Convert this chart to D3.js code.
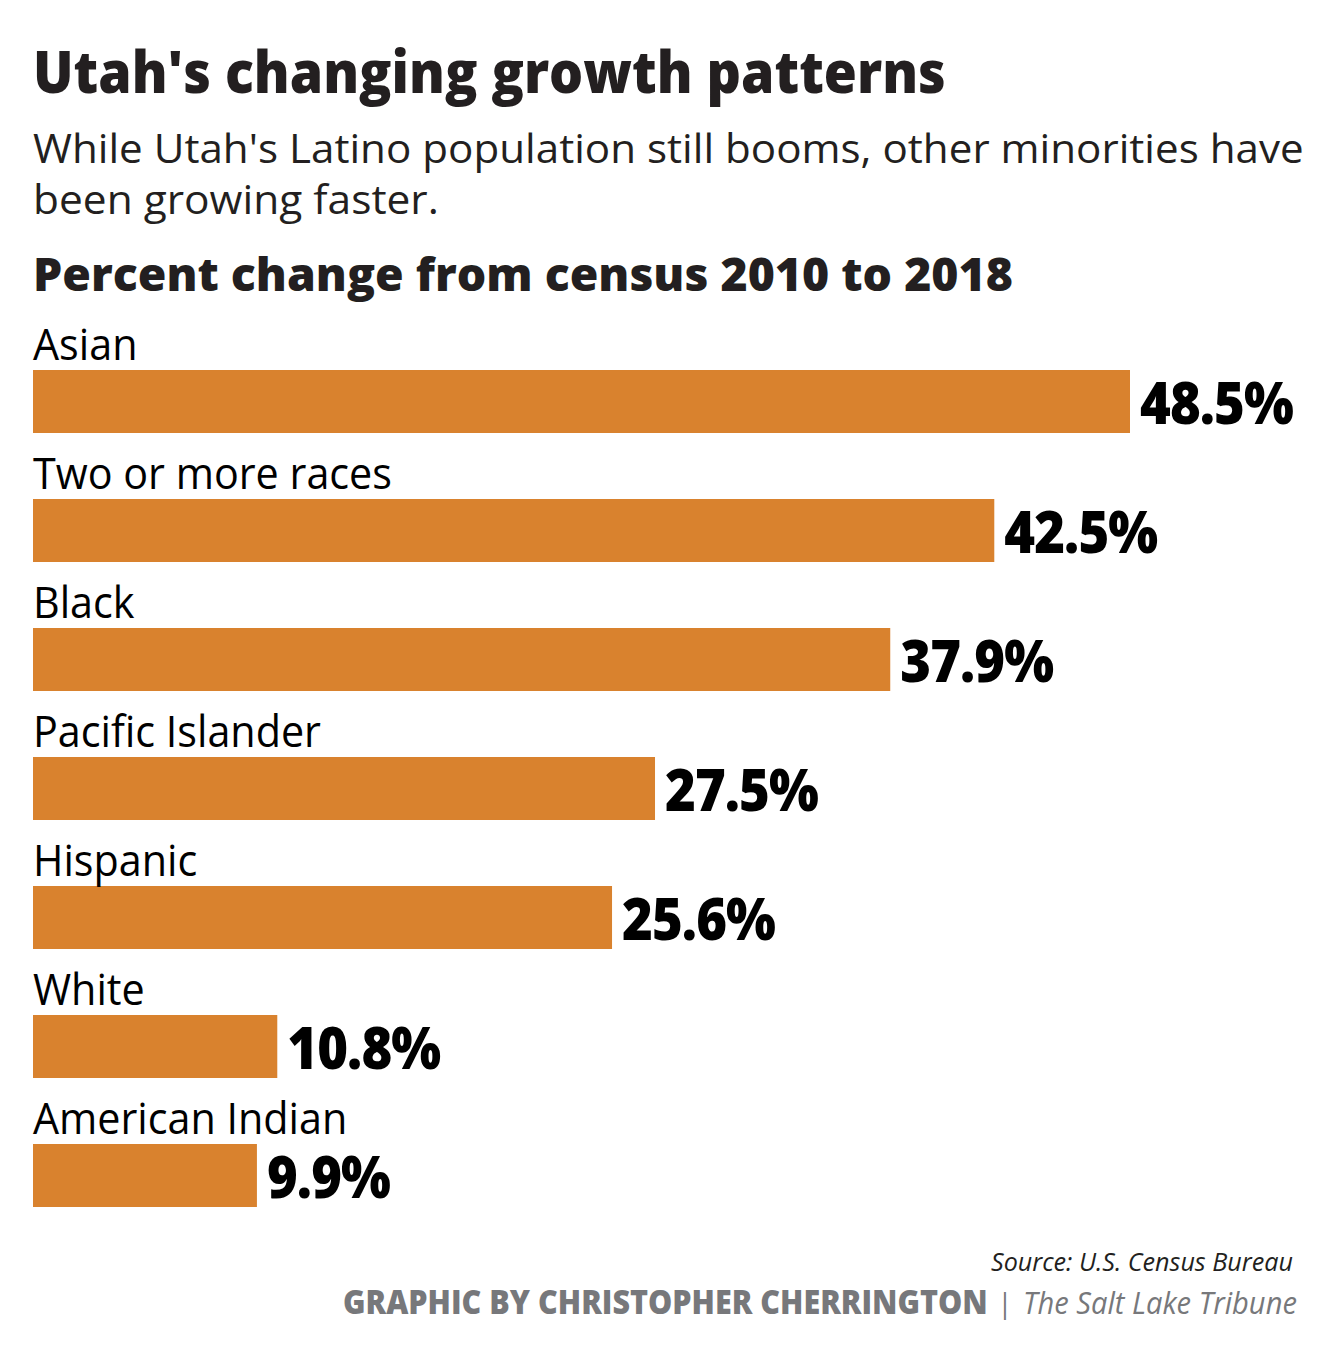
<!DOCTYPE html>
<html><head><meta charset="utf-8">
<script src="https://cdn.jsdelivr.net/npm/d3@7"></script>
<style>
html,body{margin:0;padding:0;background:#fff;}
text{font-family:"Open Sans","Noto Sans",sans-serif;}
</style></head>
<body><div id="chart"></div>
<script>
const categories = ["Asian","Two or more races","Black","Pacific Islander","Hispanic","White","American Indian"];
const values = [48.5,42.5,37.9,27.5,25.6,10.8,9.9];
const valueLabels = ["48.5%","42.5%","37.9%","27.5%","25.6%","10.8%","9.9%"];
const titleText = "Utah's changing growth patterns";
const subtitleLines = ["While Utah's Latino population still booms, other minorities have","been growing faster."];
const headerText = "Percent change from census 2010 to 2018";
const sourceText = "Source: U.S. Census Bureau";
const creditText = "GRAPHIC BY CHRISTOPHER CHERRINGTON";
const pubText = "The Salt Lake Tribune";

const W = 1335, H = 1360;
const svg = d3.select("#chart").append("svg").attr("width", W).attr("height", H);
const color = "#D9822E", ink = "#231f20";

function fitX(sel, x, target, anchor) {
  sel.each(function(){
    const w = this.getComputedTextLength();
    const s = target / w;
    const tx = anchor === "end" ? x - target : x;
    const yy = +this.getAttribute("y");
    d3.select(this).attr("x", 0).attr("y", 0).attr("text-anchor","start")
      .attr("transform", `translate(${tx},${yy}) scale(${s},1)`);
  });
}

fitX(svg.append("text").attr("y", 93).attr("font-size", 59).attr("font-weight", 800).attr("fill", ink).text(titleText), 33, 913);
subtitleLines.forEach((l,i) => {
  const t = svg.append("text").attr("y", 163 + i*51).attr("font-size", 41).attr("fill", ink).text(l);
  if (i === 0) fitX(t, 33, 1271); else fitX(t, 33, 406);
});
fitX(svg.append("text").attr("y", 291).attr("font-size", 46).attr("font-weight", 800).attr("fill", ink).text(headerText), 33, 980);

const step = 129, barH = 63;
const x = d3.scaleLinear().domain([0, 48.5]).range([33, 1130]);
const yPos = d3.scalePoint().domain(categories).range([370, 370 + step*6]);

const rows = svg.append("g").selectAll("g.row").data(categories).join("g").attr("class","row");
rows.append("rect")
  .attr("x", x(0)).attr("y", d => yPos(d))
  .attr("width", (d,i) => x(values[i]) - x(0)).attr("height", barH)
  .attr("fill", color);

const catLabels = rows.append("text")
  .attr("x", 0).attr("y", 0)
  .attr("font-size", 44).attr("fill", "#000")
  .text(d => d);
const refW = catLabels.filter((d,i) => i === 1).node().getComputedTextLength();
const cs = 359 / refW;
catLabels.attr("transform", d => `translate(33,${yPos(d) - 10}) scale(${cs},1)`);

const valTexts = rows.append("text")
  .attr("x", 0).attr("y", 0)
  .attr("font-size", 58).attr("font-weight", 800).attr("fill", "#000")
  .attr("letter-spacing", -1)
  .text((d,i) => valueLabels[i]);
const vW = valTexts.filter((d,i) => i === 0).node().getComputedTextLength();
const vs = 153 / vW;
valTexts.attr("transform", (d,i) => `translate(${x(values[i]) + 10},${yPos(d) + 54}) scale(${vs},1)`);

fitX(svg.append("text").attr("y", 1271).attr("font-size", 26).attr("font-style","italic").attr("fill", ink).text(sourceText), 1293, 302, "end");
fitX(svg.append("text").attr("y", 1314).attr("font-size", 33).attr("font-weight", 800).attr("fill", "#77787b").text(creditText), 343, 645);
svg.append("text").attr("x", 1005).attr("y", 1313).attr("font-size", 28).attr("fill", "#77787b").attr("text-anchor","middle").text("|");
fitX(svg.append("text").attr("y", 1314).attr("font-size", 31).attr("font-style","italic").attr("fill", "#77787b").text(pubText), 1297, 274, "end");
</script>
</body></html>
